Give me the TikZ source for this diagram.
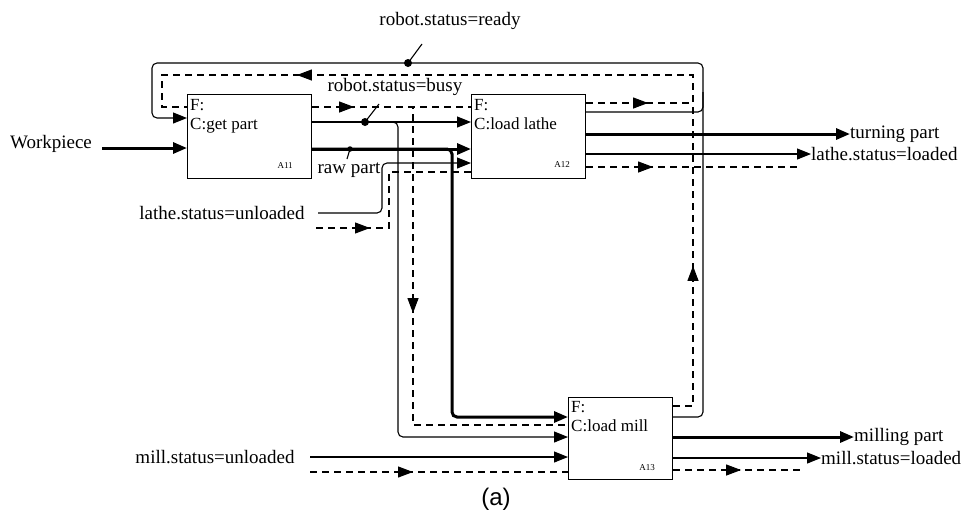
\documentclass[tikz,border=0pt]{standalone}
\usepackage{fontspec}
\setmainfont{Liberation Serif}
\newfontfamily\capfont{Liberation Sans}
\usetikzlibrary{arrows.meta,decorations.markings,calc}
\begin{document}
\begin{tikzpicture}[x=1pt,y=-1pt,
  box/.style={draw,line width=1.1pt,anchor=north west,inner sep=0pt,minimum height=84pt},
  thn/.style={line width=1.1pt},
  thk/.style={line width=3pt},
  dsh/.style={line width=1.1pt,dash pattern=on 7pt off 5pt},
  tip/.style={-{Triangle[length=14pt,width=11pt]}},
  rc/.style={rounded corners=5pt},
  midtip/.style={postaction={decorate,decoration={markings,mark=at position #1 with {\arrow{Triangle[length=15pt,width=11pt]}}}}},
  lbl/.style={font=\fontsize{19}{22}\selectfont,inner sep=0pt},
  btxt/.style={font=\fontsize{17}{19.5}\selectfont,inner sep=0pt,anchor=north west,align=left},
  code/.style={font=\fontsize{9}{10}\selectfont,inner sep=0pt},
  dot/.style={fill,circle,inner sep=0pt,minimum size=8pt}
]
\useasboundingbox (0,0) rectangle (968,515);

% boxes
\node[box,minimum width=124pt] (A11) at (187,94) {};
\node[box,minimum width=114pt] (A12) at (471,94) {};
\node[box,minimum width=104pt,minimum height=82pt] (A13) at (568,397) {};
\node[btxt] (A11t) at ($(A11.north west)+(3,5)$) {F:\\C:get part};
\node[btxt] (A12t) at ($(A12.north west)+(3,5)$) {F:\\C:load lathe};
\node[btxt] (A13t) at ($(A13.north west)+(3,4)$) {F:\\C:load mill};
\node[code] (A11c) at ($(A11.south east)+(-27,-14)$) {A11};
\node[code] (A12c) at ($(A12.south east)+(-24,-15)$) {A12};
\node[code] (A13c) at ($(A13.south east)+(-26,-13)$) {A13};

% workpiece
\node[lbl] (wp) at (51,144) {Workpiece};
\coordinate (wpE) at (102,148);
\draw[thk,tip] (wpE) -- (A11.west |- wpE);

% raw part
\coordinate (rp) at (0,149);
\coordinate (rpD) at (452,417);
\draw[thk,tip] (A11.east |- rp) -- (A12.west |- rp);
\draw[thk,tip,rc] (A11.east |- rp) -| (rpD) -- (A13.west |- rpD);
\node[lbl] (rpL) at (349,170) {raw part};
\coordinate (rpT) at (347,159);
\coordinate (rpP) at (350,149);
\draw[thn] (rpT) -- (rpP);
\node[dot,minimum size=5.5pt] (rpDot) at (rpP) {};

% robot busy (solid)
\coordinate (bs) at (0,122);
\coordinate (bsD) at (398,437);
\draw[thn,tip] (A11.east |- bs) -- (A12.west |- bs);
\draw[thn,tip,rc] (A11.east |- bs) -| (bsD) -- (A13.west |- bsD);
\node[lbl] (bsL) at (395,87) {robot.status=busy};
\coordinate (bsT) at (379,104);
\node[dot] (bsDot) at (365,122) {};
\draw[thn] (bsT) -- (bsDot.center);

% robot busy (dashed)
\coordinate (bd) at (0,107);
\coordinate (bdD) at (413,425);
\draw[dsh,midtip=42pt] (A11.east |- bd) -- (A12.west |- bd);
\draw[dsh,midtip=307pt] (A11.east |- bd) -| (bdD) -- (A13.west |- bdD);

% robot ready (solid loop)
\coordinate (rdy) at (0,63);
\coordinate (rL) at (152,0);
\coordinate (rR) at (703,0);
\coordinate (r12) at (0,112);
\coordinate (r13) at (0,417);
\coordinate (rIn) at (0,118);
\coordinate (rJ) at (703,92);
\draw[thn,rc,tip] (A13.east |- r13) -- (rR |- r13) -- (rR |- rdy) -- (rL |- rdy) -- (rL |- rIn) -- (A11.west |- rIn);
\draw[thn,rc] (A12.east |- r12) -| (rJ);
\node[lbl] (rdyL) at (450,21) {robot.status=ready};
\coordinate (rdyT) at (422,44);
\node[dot] (rdyDot) at (408,63) {};
\draw[thn] (rdyT) -- (rdyDot.center);

% robot ready (dashed loop)
\coordinate (dL) at (162,0);
\coordinate (dR) at (693,0);
\coordinate (dTop) at (0,75);
\coordinate (d12) at (0,103);
\coordinate (d13) at (0,406);
\draw[dsh,midtip=62pt,midtip=531pt] (A12.east |- d12) -- (dR |- d12) -- (dR |- dTop) -- (dL |- dTop) -- (dL |- bd) -- (A11.west |- bd);
\draw[dsh,midtip=160pt] (A13.east |- d13) -- (dR |- d13) -- (dR |- d12);

% lathe unloaded
\node[lbl] (lu) at (222,213) {lathe.status=unloaded};
\coordinate (luS) at (318,213);
\coordinate (luV) at (382,163);
\draw[thn,rc,tip] (luS) -| (luV) -- (A12.west |- luV);
\coordinate (ldS) at (316,228);
\coordinate (ldV) at (389,172);
\draw[dsh,midtip=54pt] (ldS) -| (ldV) -- (A12.west |- ldV);

% mill unloaded
\node[lbl] (mu) at (215,457) {mill.status=unloaded};
\coordinate (muS) at (310,457);
\draw[thn,tip] (muS) -- (A13.west |- muS);
\coordinate (mdS) at (310,472);
\draw[dsh,midtip=103pt] (mdS) -- (A13.west |- mdS);

% outputs of A12
\node[lbl,anchor=west] (tp) at (850,134) {turning part};
\draw[thk,tip] (A12.east |- tp.west) -- (tp.west);
\node[lbl,anchor=west] (ll) at (811,154) {lathe.status=loaded};
\draw[thn,tip] (A12.east |- ll.west) -- (ll.west);
\coordinate (le) at (797,167);
\draw[dsh,midtip=67pt] (A12.east |- le) -- (le);

% outputs of A13
\node[lbl,anchor=west] (mp) at (854,437) {milling part};
\draw[thk,tip] (A13.east |- mp.west) -- (mp.west);
\node[lbl,anchor=west] (ml) at (821,458) {mill.status=loaded};
\draw[thn,tip] (A13.east |- ml.west) -- (ml.west);
\coordinate (me) at (805,470);
\draw[dsh,midtip=68pt] (A13.east |- me) -- (me);

% caption
\node[font=\capfont\fontsize{24}{26}\selectfont,inner sep=0pt] (cap) at (496,499) {(a)};
\end{tikzpicture}
\end{document}
